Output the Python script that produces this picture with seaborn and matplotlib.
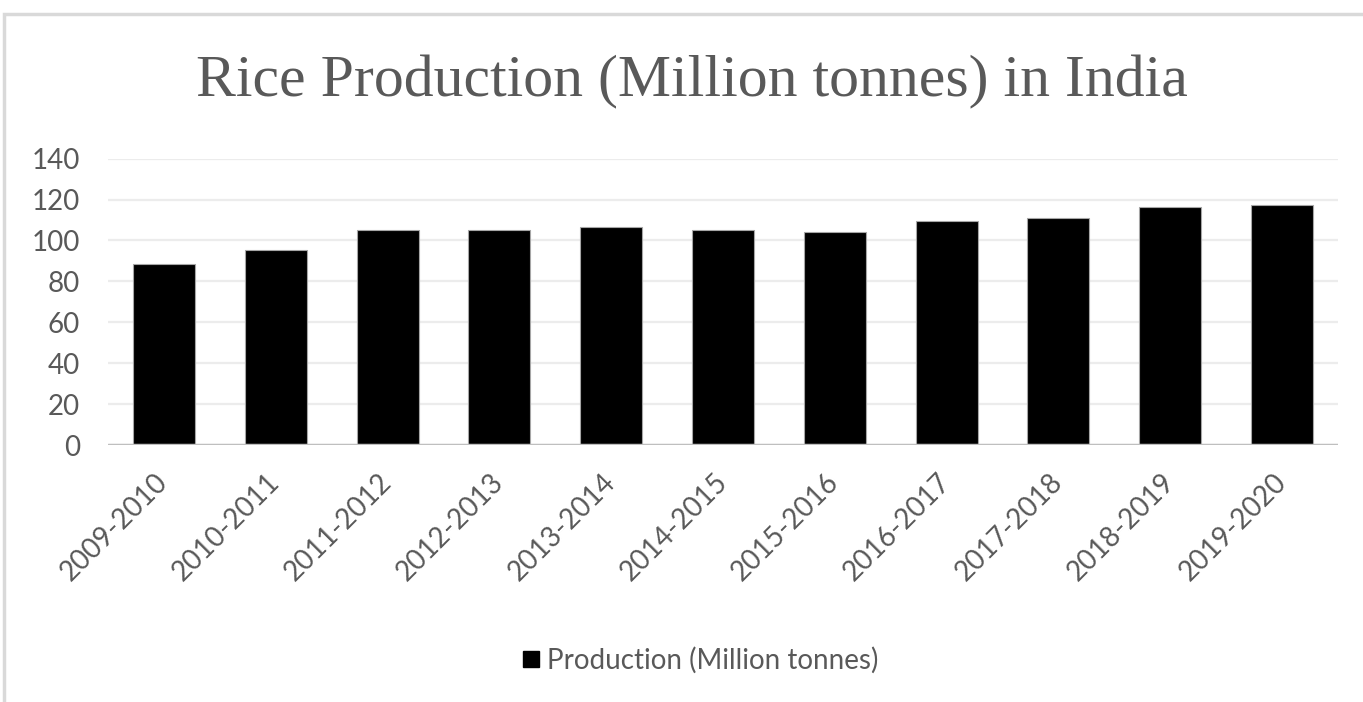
import numpy as np
import pandas as pd
import matplotlib.pyplot as plt
import matplotlib.patches as mpatches
from matplotlib.lines import Line2D
import seaborn as sns

## ===================================================================== ##

seasons = ['2009-2010', '2010-2011', '2011-2012', '2012-2013', '2013-2014', '2014-2015',
           '2015-2016', '2016-2017', '2017-2018', '2018-2019', '2019-2020']
production = [88.4, 95.5, 105.0, 105.0, 106.8, 105.0, 104.2, 109.4, 111.2, 116.4, 117.3]
yticks = [0, 20, 40, 60, 80, 100, 120, 140]
series_name = 'Production (Million tonnes)'
title = 'Rice Production (Million tonnes) in India'

## ===================================================================== ##

sns.set_style('white')
plt.rcParams['font.family'] = ['Lato', 'DejaVu Sans']

text_grey = '#595959'

df = pd.DataFrame({'season': seasons, 'production': production})

fig = plt.figure(figsize=(13.63, 7.02), dpi=100)
ax = fig.add_axes([108 / 1363, 1 - 445 / 702, 1230 / 1363, (445 - 158.7) / 702])

# outer chart frame (excel style)
fig.patches.append(mpatches.Rectangle((4 / 1363, -0.1), 1.2, 1 - 14 / 702 + 0.1,
                                      transform=fig.transFigure, fill=False,
                                      edgecolor='#d9d9d9', lw=2.5))

sns.barplot(data=df, x='season', y='production', color='black', width=0.555,
            edgecolor='#a6a6a6', linewidth=0.8, saturation=1, ax=ax, zorder=3)

ax.set_xlim(-0.5, len(seasons) - 0.5)
ax.set_ylim(0, 140)
ax.set_yticks(yticks)
ax.set_yticklabels([str(t) for t in yticks], fontsize=20, color=text_grey)
ax.set_xticks(range(len(seasons)))
ax.set_xticklabels(seasons, rotation=45, ha='right', va='center', rotation_mode='anchor',
                   fontsize=20, color=text_grey)
ax.tick_params(axis='both', length=0)
ax.tick_params(axis='y', pad=20)
ax.tick_params(axis='x', pad=24)
ax.set_xlabel('')
ax.set_ylabel('')

for t in yticks[1:]:
    ax.axhline(t, color='#ececec', lw=1.6, zorder=1)
ax.axhline(0, color='#bfbfbf', lw=2.5, zorder=4)

sns.despine(ax=ax, left=True, right=True, top=True, bottom=True)

fig.text(692 / 1363, 1 - 82 / 702, title, family='Liberation Serif', fontsize=43,
         color=text_grey, ha='center', va='center')

handle = Line2D([], [], marker='s', color='black', ls='none', markersize=11)
fig.legend([handle], [series_name], loc='center', bbox_to_anchor=(699 / 1363, 1 - 660 / 702),
           frameon=False, fontsize=20, labelcolor=text_grey, handletextpad=0.2,
           handlelength=0.8)

fig.savefig('out.png', dpi=100, facecolor='white')
